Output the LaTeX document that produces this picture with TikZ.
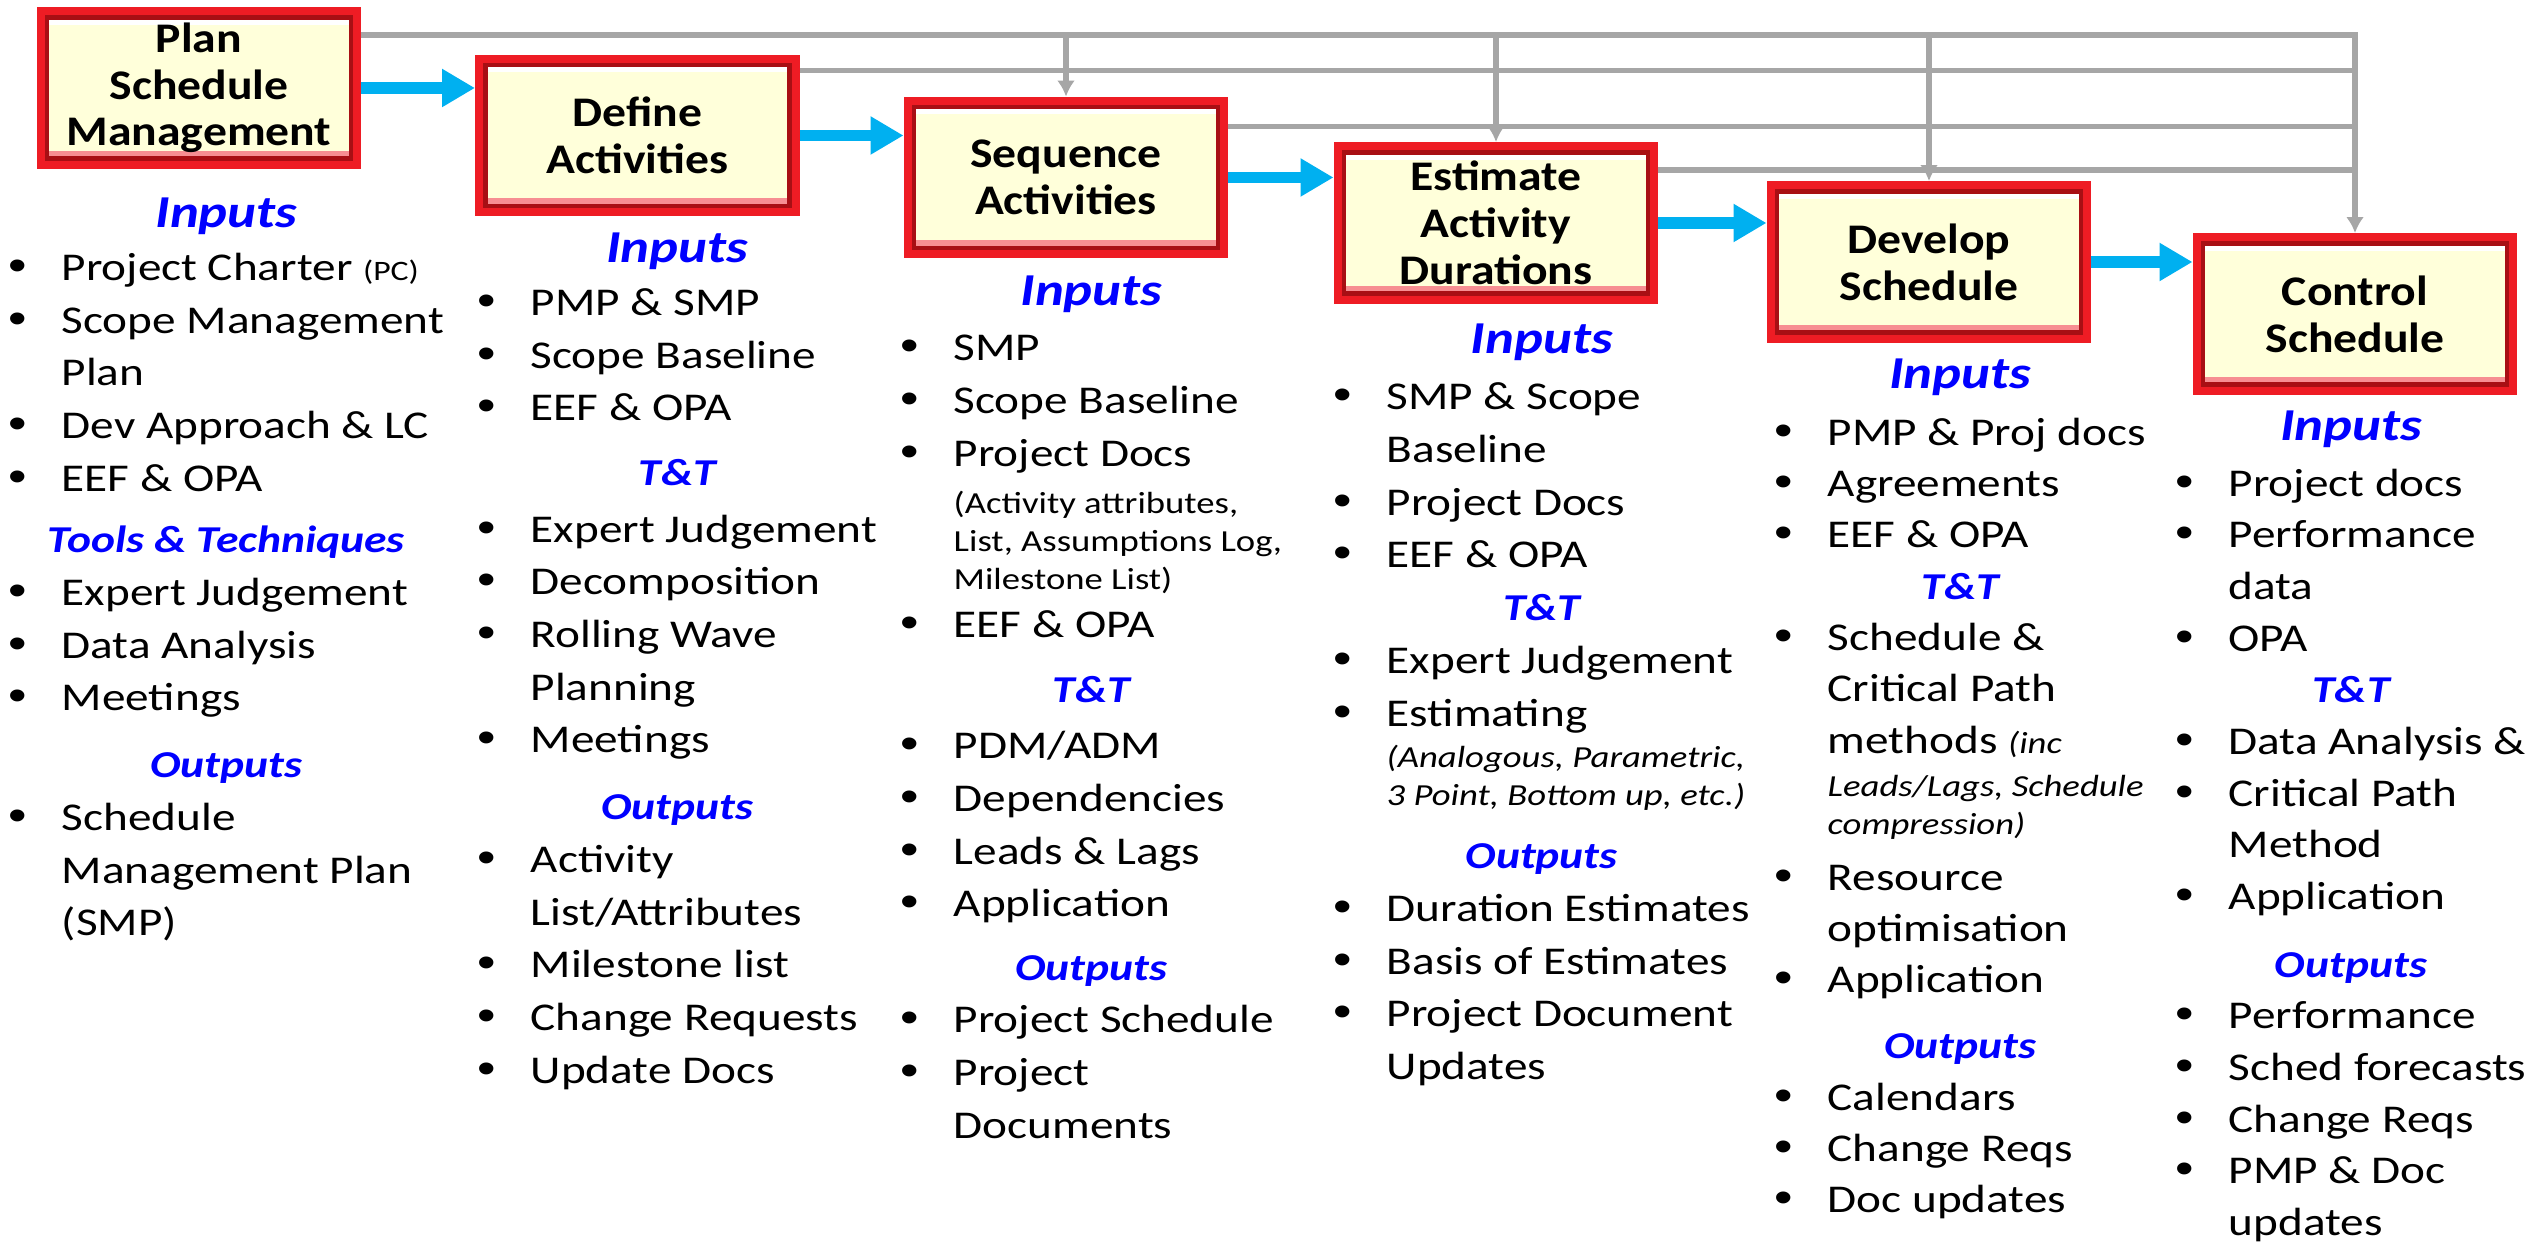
\documentclass[tikz,border=0pt]{standalone}
\usepackage{fontspec}
\setmainfont{Carlito}[FakeStretch=1.2]
\newfontfamily\boxfont{Carlito}[FakeStretch=1.13]
\newfontfamily\bulfont{Liberation Sans}[FakeStretch=1.2]
\usepackage{tikz}
\usetikzlibrary{arrows.meta}
\usepackage{xcolor}
\tikzset{>={Latex[length=1.6mm,width=1.8mm]}}
\definecolor{boxred}{HTML}{EE1C24}
\definecolor{boxdark}{HTML}{A80F14}
\definecolor{boxfill}{HTML}{FFFFDA}
\definecolor{flowblue}{HTML}{00B0F0}
\definecolor{feedgrey}{HTML}{A6A6A6}
\definecolor{hdblue}{HTML}{0000FF}
\newcommand{\hdbig}[1]{\multicolumn{2}{c}{\fontsize{13}{15}\selectfont\bfseries\itshape\color{hdblue}#1}}
\newcommand{\hd}[1]{\multicolumn{2}{c}{\fontsize{10.8}{15}\selectfont\bfseries\itshape\color{hdblue}#1}}
\newcommand{\bu}{{\bulfont\fontsize{12.5}{15}\selectfont\textbullet}}
\newcommand{\sm}[2][8]{{\fontsize{#1}{10}\selectfont #2}}
\newcommand{\subl}[2][]{{#1\fontsize{8.7}{10.8}\selectfont\begin{tabular}[t]{@{}l@{}}#2\end{tabular}}}

\begin{document}
\begin{tikzpicture}
  % staircase of process boxes, grey feed lines on top, lists under each box
  \tikzstyle{procbox}=[rectangle, draw=boxred, line width=2.4pt, fill=boxfill,
    minimum width=3.165cm, minimum height=1.535cm, inner sep=0pt, align=center,
    font=\boxfont\bfseries\fontsize{12}{13.3}\selectfont,
    path picture={
      \fill[white] ([yshift=-2.4pt]path picture bounding box.north west) rectangle ([yshift=-3.8pt]path picture bounding box.north east);
      \fill[boxred!50] ([yshift=2.4pt]path picture bounding box.south west) rectangle ([yshift=4pt]path picture bounding box.south east);
      \draw[boxdark, line width=1.2pt] ([shift={(1.8pt,1.8pt)}]path picture bounding box.south west) rectangle ([shift={(-1.8pt,-1.8pt)}]path picture bounding box.north east);
    }]
  \tikzstyle{flow}=[draw=flowblue, line width=3.4pt, -{Triangle[length=3.3mm,width=3.6mm]}]
  \tikzstyle{feed}=[draw=feedgrey, line width=1.6pt]
  \tikzstyle{iolist}=[anchor=north west, inner sep=0pt, font=\fontsize{11.2}{15}\selectfont]

  \path[fill=white, use as bounding box] (0,0) rectangle (25.42,-12.42);

  \node[procbox] (plan) at (1.99,-0.88) {Plan\\Schedule\\Management};
  \node[procbox] (define) at (6.375,-1.355) {Define\\Activities};
  \node[procbox] (sequence) at (10.66,-1.775) {Sequence\\Activities};
  \node[procbox] (estimate) at (14.96,-2.23) {Estimate\\Activity\\Durations};
  \node[procbox] (develop) at (19.29,-2.62) {Develop\\Schedule};
  \node[procbox] (control) at (23.55,-3.14) {Control\\Schedule};

  \draw[flow] (plan.east) -- (plan.east -| define.west);
  \draw[flow] (define.east) -- (define.east -| sequence.west);
  \draw[flow] (sequence.east) -- (sequence.east -| estimate.west);
  \draw[flow] (estimate.east) -- (estimate.east -| develop.west);
  \draw[flow] (develop.east) -- (develop.east -| control.west);

  \coordinate (fb1) at ([yshift=-2.8mm]plan.north east);
  \coordinate (fb2) at ([yshift=-1.6mm]define.north east);
  \coordinate (fb3) at ([yshift=-3mm]sequence.north east);
  \coordinate (fb4) at ([yshift=-2.8mm]estimate.north east);
  \draw[feed, ->] (fb1) -| (control.north);
  \draw[feed] (fb2) -- (fb2 -| control.north);
  \draw[feed] (fb3) -- (fb3 -| control.north);
  \draw[feed] (fb4) -- (fb4 -| control.north);
  \draw[feed, ->] (fb1 -| sequence.north) -- (sequence.north);
  \draw[feed, ->] (fb1 -| estimate.north) -- (estimate.north);
  \draw[feed, ->] (fb1 -| develop.north) -- (develop.north);

  \node[iolist] (planio) at (0.08,-1.90) {\begin{tabular}{@{}p{5.3mm}@{}l@{}}
    \hdbig{Inputs}\\
    \bu & Project Charter \sm{(PC)}\\
    \bu & Scope Management\\
        & Plan\\
    \bu & Dev Approach \& LC\\
    \bu & EEF \& OPA\\[2.5pt]
    \hd{Tools \& Techniques}\\
    \bu & Expert Judgement\\
    \bu & Data Analysis\\
    \bu & Meetings\\[4pt]
    \hd{Outputs}\\
    \bu & Schedule\\
        & Management Plan\\
        & (SMP)
  \end{tabular}};

  \node[iolist] (defineio) at (4.77,-2.25) {\begin{tabular}{@{}p{5.3mm}@{}l@{}}
    \hdbig{Inputs}\\
    \bu & PMP \& SMP\\
    \bu & Scope Baseline\\
    \bu & EEF \& OPA\\[3.5pt]
    \hd{T\&T}\\[1pt]
    \bu & Expert Judgement\\
    \bu & Decomposition\\
    \bu & Rolling Wave\\
        & Planning\\
    \bu & Meetings\\[4pt]
    \hd{Outputs}\\
    \bu & Activity\\
        & List/Attributes\\
    \bu & Milestone list\\
    \bu & Change Requests\\
    \bu & Update Docs
  \end{tabular}};

  \node[iolist] (sequenceio) at (9.00,-2.68) {\begin{tabular}{@{}p{5.3mm}@{}l@{}}
    \hdbig{Inputs}\\[0.7pt]
    \bu & SMP\\
    \bu & Scope Baseline\\
    \bu & Project Docs\\[-1.6pt]
        & \subl{(Activity attributes,\\List, Assumptions Log,\\Milestone List)}\\
    \bu & EEF \& OPA\\[3.5pt]
    \hd{T\&T}\\[1pt]
    \bu & PDM/ADM\\
    \bu & Dependencies\\
    \bu & Leads \& Lags\\
    \bu & Application\\[3pt]
    \hd{Outputs}\\
    \bu & Project Schedule\\
    \bu & Project\\
        & Documents
  \end{tabular}};

  \node[iolist] (estimateio) at (13.33,-3.16) {\begin{tabular}{@{}p{5.3mm}@{}l@{}}
    \hdbig{Inputs}\\[1pt]
    \bu & SMP \& Scope\\
        & Baseline\\
    \bu & Project Docs\\
    \bu & EEF \& OPA\\
    \hd{T\&T}\\
    \bu & Expert Judgement\\
    \bu & Estimating\\[-3.2pt]
        & \subl[\itshape]{(Analogous, Parametric,\\3 Point, Bottom up, etc.)}\\[13.8pt]
    \hd{Outputs}\\
    \bu & Duration Estimates\\
    \bu & Basis of Estimates\\
    \bu & Project Document\\
        & Updates
  \end{tabular}};

  \node[iolist, font=\fontsize{11.2}{14.6}\selectfont] (developio) at (17.74,-3.52) {\begin{tabular}{@{}p{5.3mm}@{}l@{}}
    \hdbig{Inputs}\\[1.5pt]
    \bu & PMP \& Proj docs\\
    \bu & Agreements\\
    \bu & EEF \& OPA\\
    \hd{T\&T}\\
    \bu & Schedule \&\\
        & Critical Path\\
        & methods \sm[8.7]{\itshape(inc}\\[-2.2pt]
        & \subl[\itshape]{Leads/Lags, Schedule\\compression)}\\[12pt]
    \bu & Resource\\
        & optimisation\\
    \bu & Application\\[4.2pt]
    \hd{Outputs}\\
    \bu & Calendars\\
    \bu & Change Reqs\\
    \bu & Doc updates
  \end{tabular}};

  \node[iolist, font=\fontsize{11.2}{14.7}\selectfont] (controlio) at (21.75,-4.04) {\begin{tabular}{@{}p{5.3mm}@{}l@{}}
    \hdbig{Inputs}\\[1pt]
    \bu & Project docs\\
    \bu & Performance\\
        & data\\
    \bu & OPA\\
    \hd{T\&T}\\
    \bu & Data Analysis \&\\
    \bu & Critical Path\\
        & Method\\
    \bu & Application\\[4.6pt]
    \hd{Outputs}\\
    \bu & Performance\\
    \bu & Sched forecasts\\
    \bu & Change Reqs\\
    \bu & PMP \& Doc\\
        & updates
  \end{tabular}};
\end{tikzpicture}
\end{document}
